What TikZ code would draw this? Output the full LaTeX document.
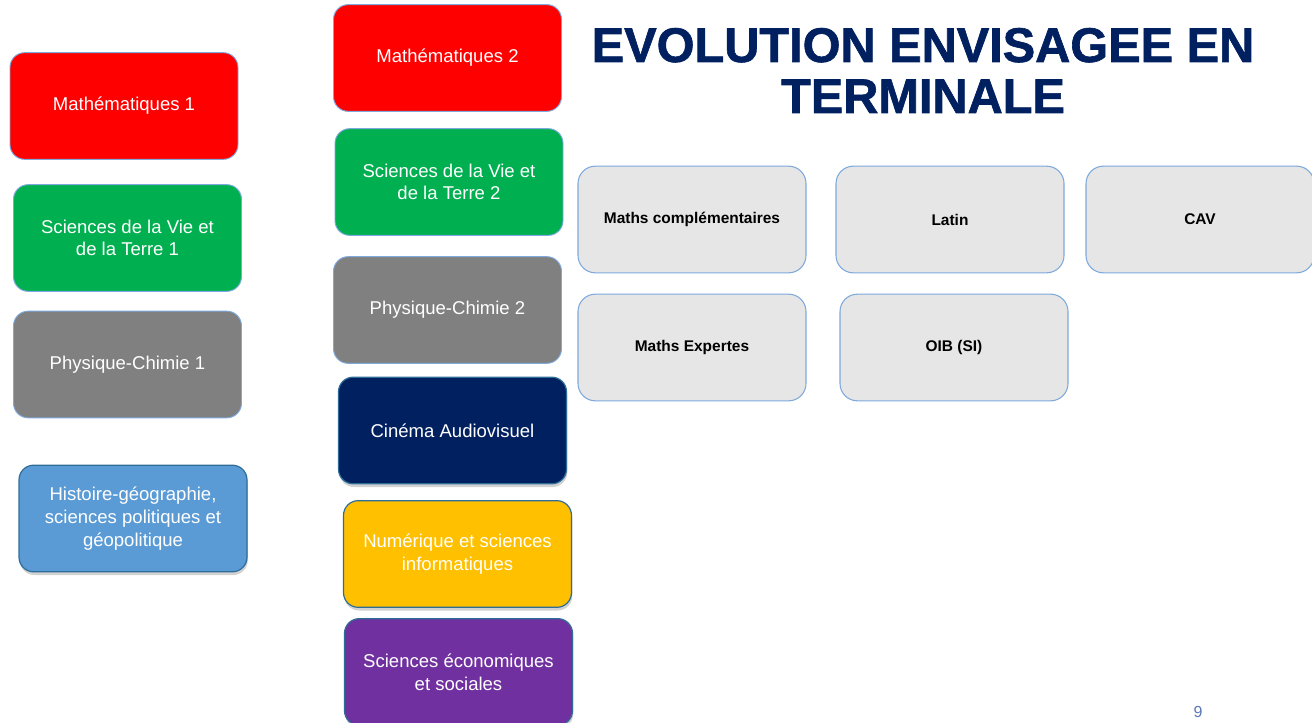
\documentclass[tikz,border=0pt]{standalone}
\usepackage{fontspec}
\setmainfont{Liberation Sans}
\newfontfamily\heavyfont[BoldFont=Liberation Sans Bold, BoldFeatures={FakeBold=1.3}]{Liberation Sans}
\usetikzlibrary{shadows}
\definecolor{cRed}{HTML}{FF0000}
\definecolor{cGreen}{HTML}{00B050}
\definecolor{cGrey}{HTML}{808080}
\definecolor{cBlue}{HTML}{5B9BD5}
\definecolor{cNavy}{HTML}{002060}
\definecolor{cYellow}{HTML}{FFC000}
\definecolor{cPurple}{HTML}{7030A0}
\definecolor{cLight}{HTML}{E6E6E6}
\definecolor{cEdgeLight}{HTML}{7EA9DC}
\definecolor{cEdgeDark}{HTML}{2F6D99}
\definecolor{cTitle}{HTML}{002060}
\definecolor{cPage}{HTML}{5A78B8}
\tikzset{
  subj/.style={rectangle, rounded corners=11pt, minimum width=171pt, minimum height=80pt,
    inner sep=0pt, align=center, text=white, draw=cEdgeLight, line width=0.7pt,
    font=\fontsize{13.9}{17}\selectfont},
  subjdark/.style={subj, draw=cEdgeDark, line width=0.9pt,
    drop shadow={shadow xshift=0.6pt, shadow yshift=-2.4pt, opacity=0.35}},
  optbox/.style={rectangle, rounded corners=13pt, minimum width=171pt, minimum height=80pt,
    inner sep=0pt, align=center, text=black, fill=cLight, draw=cEdgeLight, line width=0.8pt,
    font=\fontsize{11.6}{14}\selectfont\bfseries},
  titletext/.style={anchor=base, text=cTitle, inner sep=0pt, font=\heavyfont\fontsize{36.5}{40}\selectfont\bfseries},
}
\begin{document}
\begin{tikzpicture}[x=0.75pt, y=-0.75pt]
\useasboundingbox (0,0) rectangle (1312,723);
\clip (0,0) rectangle (1312,723);
\fill[white] (0,0) rectangle (1312,723);

% left column
\node[subj, fill=cRed] (m1) at (124,106) {Mathématiques 1};
\node[subj, fill=cGreen] (svt1) at (127.5,238) {Sciences de la Vie et\\de la Terre 1};
\node[subj, fill=cGrey] (pc1) at (127.5,364.5) {Physique-Chimie 1};
\node[subjdark, fill=cBlue] (hg) at (133,518.5) {Histoire-géographie,\\sciences politiques et\\géopolitique};

% middle column
\node[subj, fill=cRed] (m2) at (447.5,58) {Mathématiques 2};
\node[subj, fill=cGreen] (svt2) at (449,182) {Sciences de la Vie et\\de la Terre 2};
\node[subj, fill=cGrey] (pc2) at (447.5,310) {Physique-Chimie 2};
\node[subjdark, fill=cNavy] (cav) at (452.5,430.5) {Cinéma Audiovisuel};
\node[subjdark, fill=cYellow] (nsi) at (457.5,554) {Numérique et sciences\\informatiques};
\node[subjdark, fill=cPurple] (ses) at (458.5,672) {Sciences économiques\\et sociales};

% title
\node[titletext] (t1) at (923,62) {EVOLUTION ENVISAGEE EN};
\node[titletext] (t2) at (923,113) {TERMINALE};

% options in terminale
\node[optbox] (mc) at (692,219.5) {Maths complémentaires};
\node[optbox] (lat) at (950,219.5) {Latin};
\node[optbox] (cavopt) at (1200,219.5) {CAV};
\node[optbox] (me) at (692,347.5) {Maths Expertes};
\node[optbox] (oib) at (954,347.5) {OIB (SI)};

% page number
\node[anchor=base, text=cPage, inner sep=0pt, font=\fontsize{12}{14}\selectfont] (pg) at (1198,717) {9};
\end{tikzpicture}
\end{document}
